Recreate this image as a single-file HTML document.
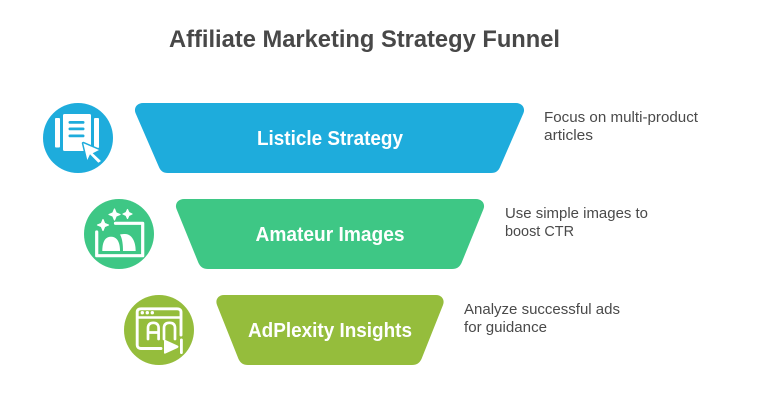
<!DOCTYPE html>
<html>
<head>
<meta charset="utf-8">
<style>
html,body{margin:0;padding:0;background:#fff;width:758px;height:402px;overflow:hidden}
svg{display:block}
text{font-family:"Liberation Sans",sans-serif}
.t{font-size:14.500px;fill:#4a4a4a}
.h{font-size:20px;font-weight:bold;fill:#fff;text-anchor:middle}
</style>
</head>
<body>
<svg width="758" height="402" viewBox="0 0 758 402" xmlns="http://www.w3.org/2000/svg">
<rect width="758" height="402" fill="#fff"/>
<text x="169" y="47" font-size="24.500" font-weight="bold" fill="#484848" textLength="391" lengthAdjust="spacingAndGlyphs">Affiliate Marketing Strategy Funnel</text>

<!-- funnel bands -->
<path d="M143 103H516C522 103 525.500 108 523.500 113L500.500 166C498.500 171 496 173 491 173H168C163 173 160.500 171 158.500 166L135.500 113C133.500 108 137 103 143 103Z" fill="#1EACDC"/>
<path d="M184 199H476C482 199 485.500 204 483.500 209L461.500 263C459.500 267 457 269 452 269H208C203 269 200.500 267 198.500 263L176.500 209C174.500 204 178 199 184 199Z" fill="#3EC785"/>
<path d="M224 295H436C442 295 445 300 443 305L421.500 359C419.500 363 417 365 412 365H248C243 365 240.500 363 238.500 359L217 305C215 300 218 295 224 295Z" fill="#95BD3C"/>

<text class="h" x="330" y="145" textLength="146" lengthAdjust="spacingAndGlyphs">Listicle Strategy</text>
<text class="h" x="330" y="241" textLength="149" lengthAdjust="spacingAndGlyphs">Amateur Images</text>
<text class="h" x="330" y="337" textLength="164" lengthAdjust="spacingAndGlyphs">AdPlexity Insights</text>

<text class="t" x="544" y="122" textLength="154" lengthAdjust="spacingAndGlyphs">Focus on multi-product</text>
<text class="t" x="544" y="140" textLength="49" lengthAdjust="spacingAndGlyphs">articles</text>
<text class="t" x="505" y="218" textLength="143" lengthAdjust="spacingAndGlyphs">Use simple images to</text>
<text class="t" x="505" y="236" textLength="69" lengthAdjust="spacingAndGlyphs">boost CTR</text>
<text class="t" x="464" y="314" textLength="156" lengthAdjust="spacingAndGlyphs">Analyze successful ads</text>
<text class="t" x="464" y="332" textLength="83" lengthAdjust="spacingAndGlyphs">for guidance</text>

<!-- icon 1 -->
<circle cx="78" cy="138" r="35" fill="#1EACDC"/>
<rect x="55" y="118" width="5" height="29.500" rx="1" fill="#fff"/>
<rect x="63" y="114" width="28" height="37" rx="1.500" fill="#fff"/>
<rect x="94" y="118" width="5" height="30" rx="1" fill="#fff"/>
<rect x="68.500" y="121" width="16" height="2.800" rx="1.400" fill="#1EACDC"/>
<rect x="68.500" y="127.500" width="16" height="2.800" rx="1.400" fill="#1EACDC"/>
<rect x="68.500" y="134.500" width="16" height="2.800" rx="1.400" fill="#1EACDC"/>
<path d="M83.300 143.300L99 150L92.700 153.300L101 161L98.300 162.800L90 154.300L87.300 160Z" fill="#fff" stroke="#1EACDC" stroke-width="3" paint-order="stroke" stroke-linejoin="round"/>

<!-- icon 2 -->
<circle cx="119" cy="234" r="35" fill="#3EC785"/>
<path d="M115.500 223.300H142.700V255.700H96.700V232" fill="none" stroke="#fff" stroke-width="3.200" stroke-linecap="round" stroke-linejoin="round"/>
<path d="M102.300 251C102.300 242 105 236.700 111 236.700C117 236.700 120 242 120 251Z" fill="#fff"/>
<path d="M120 234.500C122 234 123.500 234 125 234C131.500 234 135.700 241 135.700 251H123C123 245 122.500 239 120 234.500Z" fill="#fff"/>
<path d="M103 219.500L104.600 223.400L108.500 225L104.600 226.600L103 230.500L101.400 226.600L97.500 225L101.400 223.400Z" fill="#fff" stroke="#fff" stroke-width="1.200" stroke-linejoin="round"/>
<path d="M114.500 209L116.100 212.900L120 214.500L116.100 216.100L114.500 220L112.900 216.100L109 214.500L112.900 212.900Z" fill="#fff" stroke="#fff" stroke-width="1.200" stroke-linejoin="round"/>
<path d="M127.500 209.500L128.900 212.600L132 214L128.900 215.400L127.500 218.500L126.100 215.400L123 214L126.100 212.600Z" fill="#fff" stroke="#fff" stroke-width="1.200" stroke-linejoin="round"/>

<!-- icon 3 -->
<circle cx="159" cy="330" r="35" fill="#95BD3C"/>
<path d="M161 348.500H141C138.500 348.500 137.200 347 137.200 345V312C137.200 310 138.500 308.800 141 308.800H177C179.500 308.800 181 310 181 312V335" fill="none" stroke="#fff" stroke-width="2.900" stroke-linecap="round"/>
<path d="M137 317.500H181" fill="none" stroke="#fff" stroke-width="2.400"/>
<circle cx="142.300" cy="312.700" r="1.700" fill="#fff"/>
<circle cx="147.300" cy="312.700" r="1.700" fill="#fff"/>
<circle cx="152.300" cy="312.700" r="1.700" fill="#fff"/>
<path d="M148 339V328C148 324.500 150 322.800 153.300 322.800C156.600 322.800 158.600 324.500 158.600 328V339M148 332.500H158.600" fill="none" stroke="#fff" stroke-width="2.700" stroke-linecap="round"/>
<path d="M164 339V328C164 324.500 166 322.800 169.500 322.800C173 322.800 175 324.500 175 328V339" fill="none" stroke="#fff" stroke-width="2.700" stroke-linecap="round"/>
<path d="M165.500 340L177.500 345.500C178.800 346.200 178.800 347.300 177.500 348L165.500 353.500C164.500 354 164 353.500 164 352.500V341C164 340 164.500 339.500 165.500 340Z" fill="#fff"/>
<rect x="180" y="338.500" width="2.800" height="15.500" rx="1.400" fill="#fff"/>
</svg>
</body>
</html>
